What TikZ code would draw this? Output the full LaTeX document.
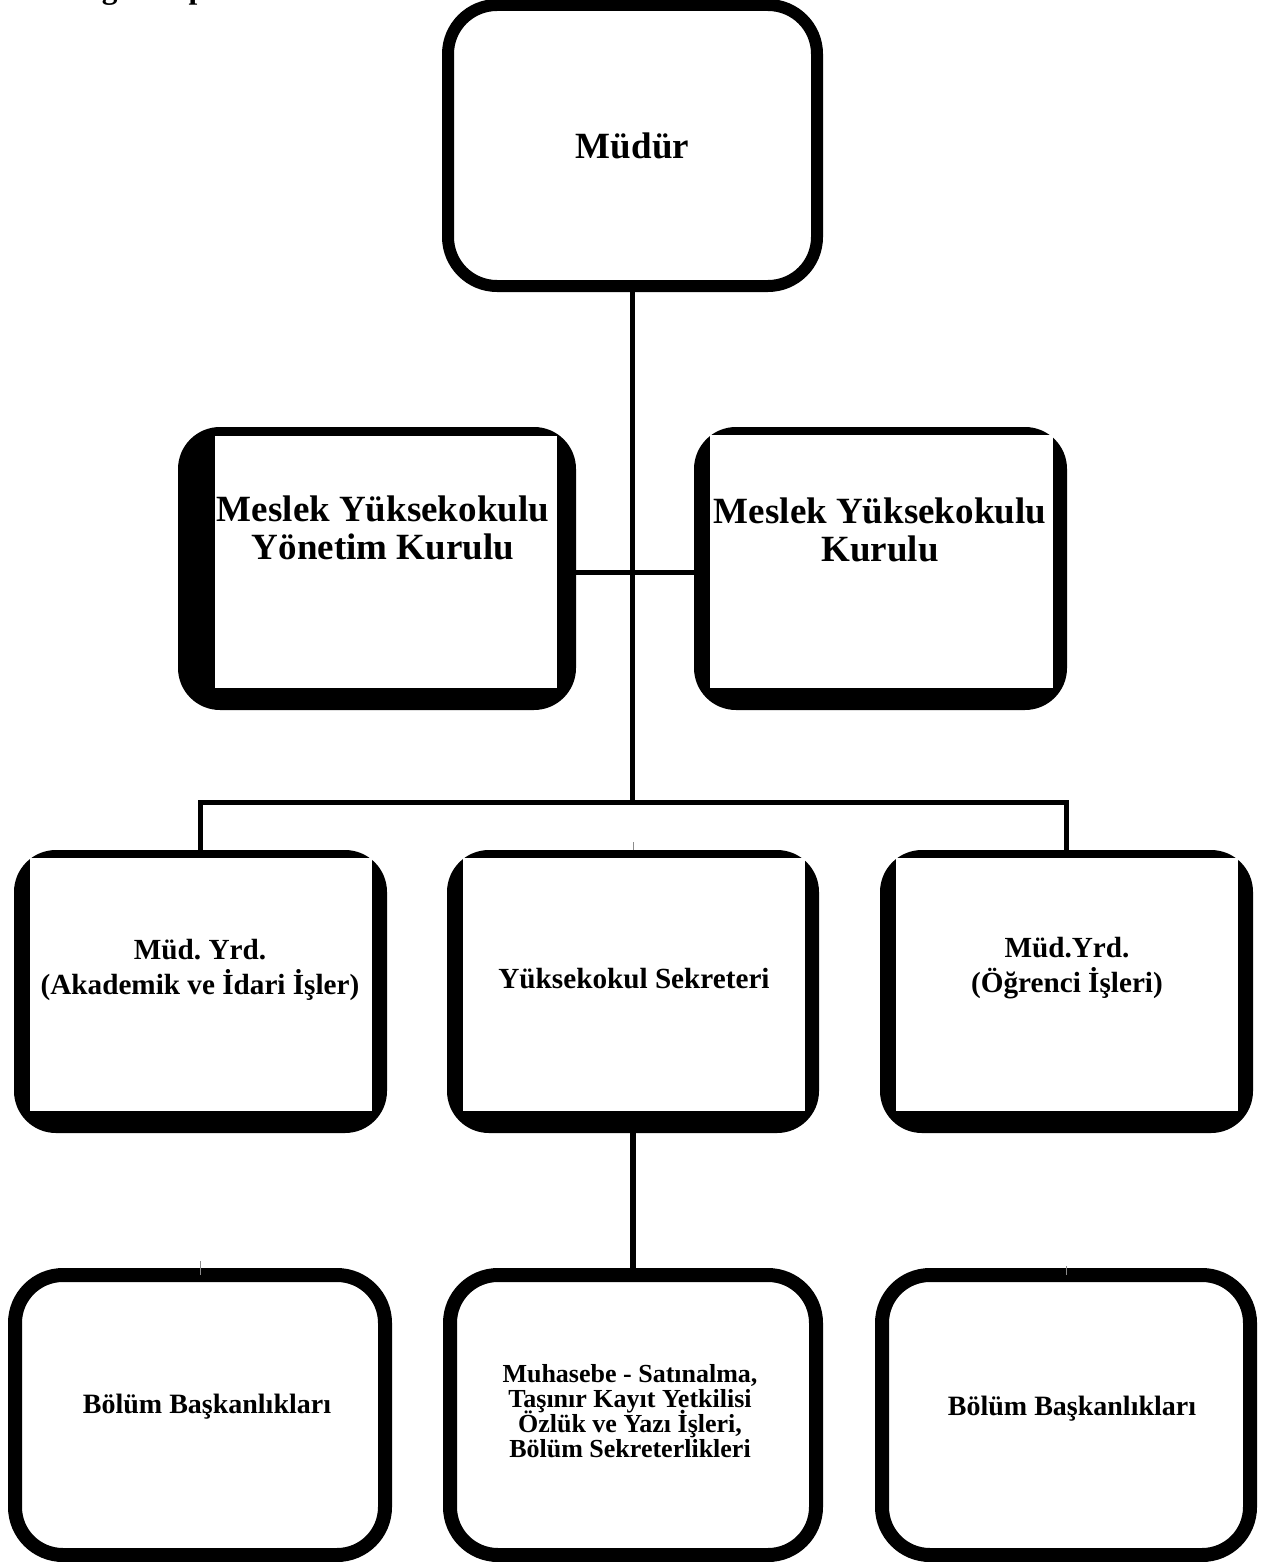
\documentclass[tikz,border=0pt]{standalone}
\usepackage{fontspec}
\setmainfont{Liberation Serif}
\frenchspacing
\newcommand\mynolsk{\lineskiplimit=-20pt\lineskip=0pt\relax}
\begin{document}
\begin{tikzpicture}[x=0.5pt,y=-0.5pt,
  outbox/.style={draw=black, line width=6pt, rounded corners=24.5pt, fill=white, inner sep=0pt, outer sep=0pt},
  lowbox/.style={draw=black, line width=7pt, rounded corners=24pt, fill=white, inner sep=0pt, outer sep=0pt},
  blkbox/.style={fill=black, draw=none, rounded corners=21pt, inner sep=0pt, outer sep=0pt},
  conn/.style={line width=2.5pt},
  conntwo/.style={line width=3pt},
  tickline/.style={line width=0.4pt, black!45},
  bigtxt/.style={font=\fontsize{18.5}{19}\selectfont\bfseries\mynolsk, align=center, inner sep=0pt},
  midtxt/.style={font=\fontsize{14.6}{17.5}\selectfont\bfseries\mynolsk, align=center, inner sep=0pt},
  lowtxt/.style={font=\fontsize{14}{16}\selectfont\bfseries, inner sep=0pt},
  smtxt/.style={font=\fontsize{13}{12.5}\selectfont\bfseries\mynolsk, align=center, inner sep=0pt}
]
\useasboundingbox (0,0) rectangle (1280,1562);
\fill[white] (0,0) rectangle (1280,1562);

% clipped heading fragment (only its descenders lie on the page)
\node[anchor=base west, font=\fontsize{15.75}{18}\selectfont\bfseries, inner sep=0pt] (head) at (63,-1.5) {Örgüt Yapısı};

% top box
\node[outbox, minimum width=184.5pt, minimum height=140.5pt, font=\fontsize{18.5}{19}\selectfont\bfseries] (mudur) at (632.5,145.5) {Müdür};

% upper middle boxes
\node[blkbox, minimum width=199pt, minimum height=141.5pt] (yon) at (377,568.5) {};
\fill[white] (215,436) rectangle (557,688);
\node[bigtxt] (yont) at (383,528) {Meslek Yüksekokulu\\Yönetim Kurulu};

\node[blkbox, minimum width=186.5pt, minimum height=141.5pt] (kur) at (880.5,568.5) {};
\fill[white] (710,435) rectangle (1053,688);
\node[bigtxt] (kurt) at (880,529.5) {Meslek Yüksekokulu\\Kurulu};

% middle row
\node[blkbox, minimum width=186.5pt, minimum height=141.5pt] (yrda) at (200.5,991.5) {};
\fill[white] (30,858) rectangle (372,1111);
\node[midtxt] (yrdat) at (200,970) {Müd. Yrd.\\(Akademik ve İdari İşler)};

\node[blkbox, minimum width=186pt, minimum height=141.5pt] (sek) at (633,991.5) {};
\fill[white] (463,858) rectangle (805,1111);
\node[midtxt, anchor=base] (sekt) at (634,988) {Yüksekokul Sekreteri};

\node[blkbox, minimum width=186.5pt, minimum height=141.5pt] (ogr) at (1066.5,991.5) {};
\fill[white] (896,858) rectangle (1238,1111);
\node[midtxt] (ogrt) at (1067,968.5) {Müd.Yrd.\\(Öğrenci İşleri)};

% bottom row
\node[lowbox, minimum width=185pt, minimum height=140pt] (bbl) at (200,1415) {};
\node[lowtxt, anchor=base] (bblt) at (207,1413) {Bölüm Başkanlıkları};

\node[lowbox, minimum width=183pt, minimum height=140pt] (muh) at (633,1415) {};
\node[smtxt] (muht) at (630,1411) {Muhasebe - Satınalma,\\Taşınır Kayıt Yetkilisi\\Özlük ve Yazı İşleri,\\Bölüm Sekreterlikleri};

\node[lowbox, minimum width=184pt, minimum height=140pt] (bbr) at (1066,1415) {};
\node[lowtxt, anchor=base] (bbrt) at (1072,1415) {Bölüm Başkanlıkları};

% connectors
\coordinate (barc) at (632.5,802);
\coordinate (hy) at (0,572);
\draw[conn, shorten <=3pt] (mudur.south) -- (barc);
\draw[conn] (yon.east |- hy) -- (kur.west |- hy);
\draw[conn] (yrda.north) |- (barc) -| (ogr.north);
\draw[conntwo, shorten >=3pt] (sek.south) -- (muh.north);

% faint ticks
\draw[tickline] (sek.north) -- ++(0,-8);
\draw[tickline] (bbl.north) -- ++(0,-14);
\draw[tickline] (bbr.north) -- ++(0,-9);
\end{tikzpicture}
\end{document}
